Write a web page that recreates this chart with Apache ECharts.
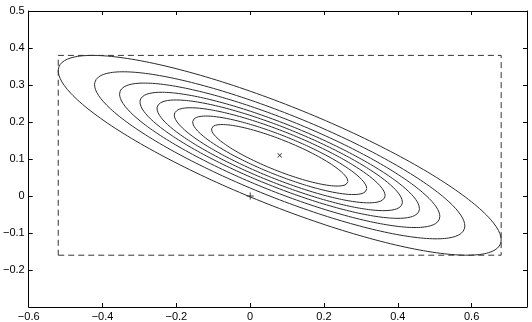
<!DOCTYPE html>
<html>
<head>
<meta charset="utf-8">
<script src="https://cdn.jsdelivr.net/npm/echarts@6/dist/echarts.min.js"></script>
<style>
  html, body { margin: 0; padding: 0; background: #fff; }
  #main { width: 532px; height: 322px; }
</style>
</head>
<body>
<div id="main"></div>
<script>
// ellipse centre and shape matrix (outer contour)
var center = [0.08, 0.11];
var shape = [[0.36, -0.137], [-0.137, 0.0729]];
// relative size of each contour, outer to inner
var levels = [1, 0.836, 0.723, 0.631, 0.554, 0.476, 0.393, 0.308];
// dashed bounding box corners [xmin, xmax, ymin, ymax]
var box = [-0.52, 0.68, -0.16, 0.38];
var origin = [0, 0];
var xTicks = [-0.6, 0.75, 0.2];
var yTicks = [-0.3, 0.5, 0.1];

var myChart = echarts.init(document.getElementById('main'));

// cholesky of shape matrix
var l11 = Math.sqrt(shape[0][0]);
var l21 = shape[1][0] / l11;
var l22 = Math.sqrt(shape[1][1] - l21 * l21);

function ellipse(r) {
    var pts = [];
    for (var i = 0; i <= 240; i++) {
        var t = i / 240 * Math.PI * 2;
        var c = Math.cos(t), s = Math.sin(t);
        pts.push([center[0] + r * l11 * c, center[1] + r * (l21 * c + l22 * s)]);
    }
    return pts;
}

var series = levels.map(function (r) {
    return {
        type: 'line', data: ellipse(r), showSymbol: false, silent: true,
        lineStyle: { color: '#2b2b2b', width: 1 }
    };
});

series.push({
    type: 'line', showSymbol: false, silent: true,
    data: [[box[0], box[2]], [box[1], box[2]], [box[1], box[3]], [box[0], box[3]], [box[0], box[2]]],
    lineStyle: { color: '#333', width: 1, type: [6, 4] }
});

var plus = 'path://M0,2.6h6v0.8h-6z M2.6,0h0.8v6h-0.8z';
series.push({
    type: 'scatter', data: [center], symbol: plus, symbolSize: 6, symbolRotate: 45,
    itemStyle: { color: '#000' }, silent: true
});
series.push({
    type: 'scatter', data: [origin], symbol: plus, symbolSize: 7,
    itemStyle: { color: '#000' }, silent: true
});

function fmt(v) {
    var s = Math.abs(v) < 1e-9 ? '0' : String(+v.toFixed(1));
    return s.replace('-', '\u2212');
}

var axisCommon = {
    type: 'value',
    axisLine: { show: true, onZero: false, lineStyle: { color: '#000', width: 1 } },
    axisTick: { show: true, inside: true, length: 4, lineStyle: { color: '#000' } },
    splitLine: { show: false }
};

var option = {
    animation: false,
    grid: { left: 26, top: 11, right: 5, bottom: 15 },
    xAxis: [
        Object.assign({}, axisCommon, {
            min: xTicks[0], max: xTicks[1], interval: xTicks[2], position: 'bottom',
            axisLabel: { formatter: fmt, showMaxLabel: false, color: '#000', fontSize: 11, fontFamily: 'Liberation Sans', margin: 4 }
        }),
        Object.assign({}, axisCommon, {
            min: xTicks[0], max: xTicks[1], interval: xTicks[2], position: 'top',
            axisLabel: { show: false }
        })
    ],
    yAxis: [
        Object.assign({}, axisCommon, {
            min: yTicks[0], max: yTicks[1], interval: yTicks[2], position: 'left',
            axisLabel: { formatter: fmt, showMinLabel: false, color: '#000', fontSize: 11, fontFamily: 'Liberation Sans', margin: 4 }
        }),
        Object.assign({}, axisCommon, {
            min: yTicks[0], max: yTicks[1], interval: yTicks[2], position: 'right',
            axisLabel: { show: false }
        })
    ],
    series: series
};

myChart.setOption(option);
</script>
</body>
</html>
